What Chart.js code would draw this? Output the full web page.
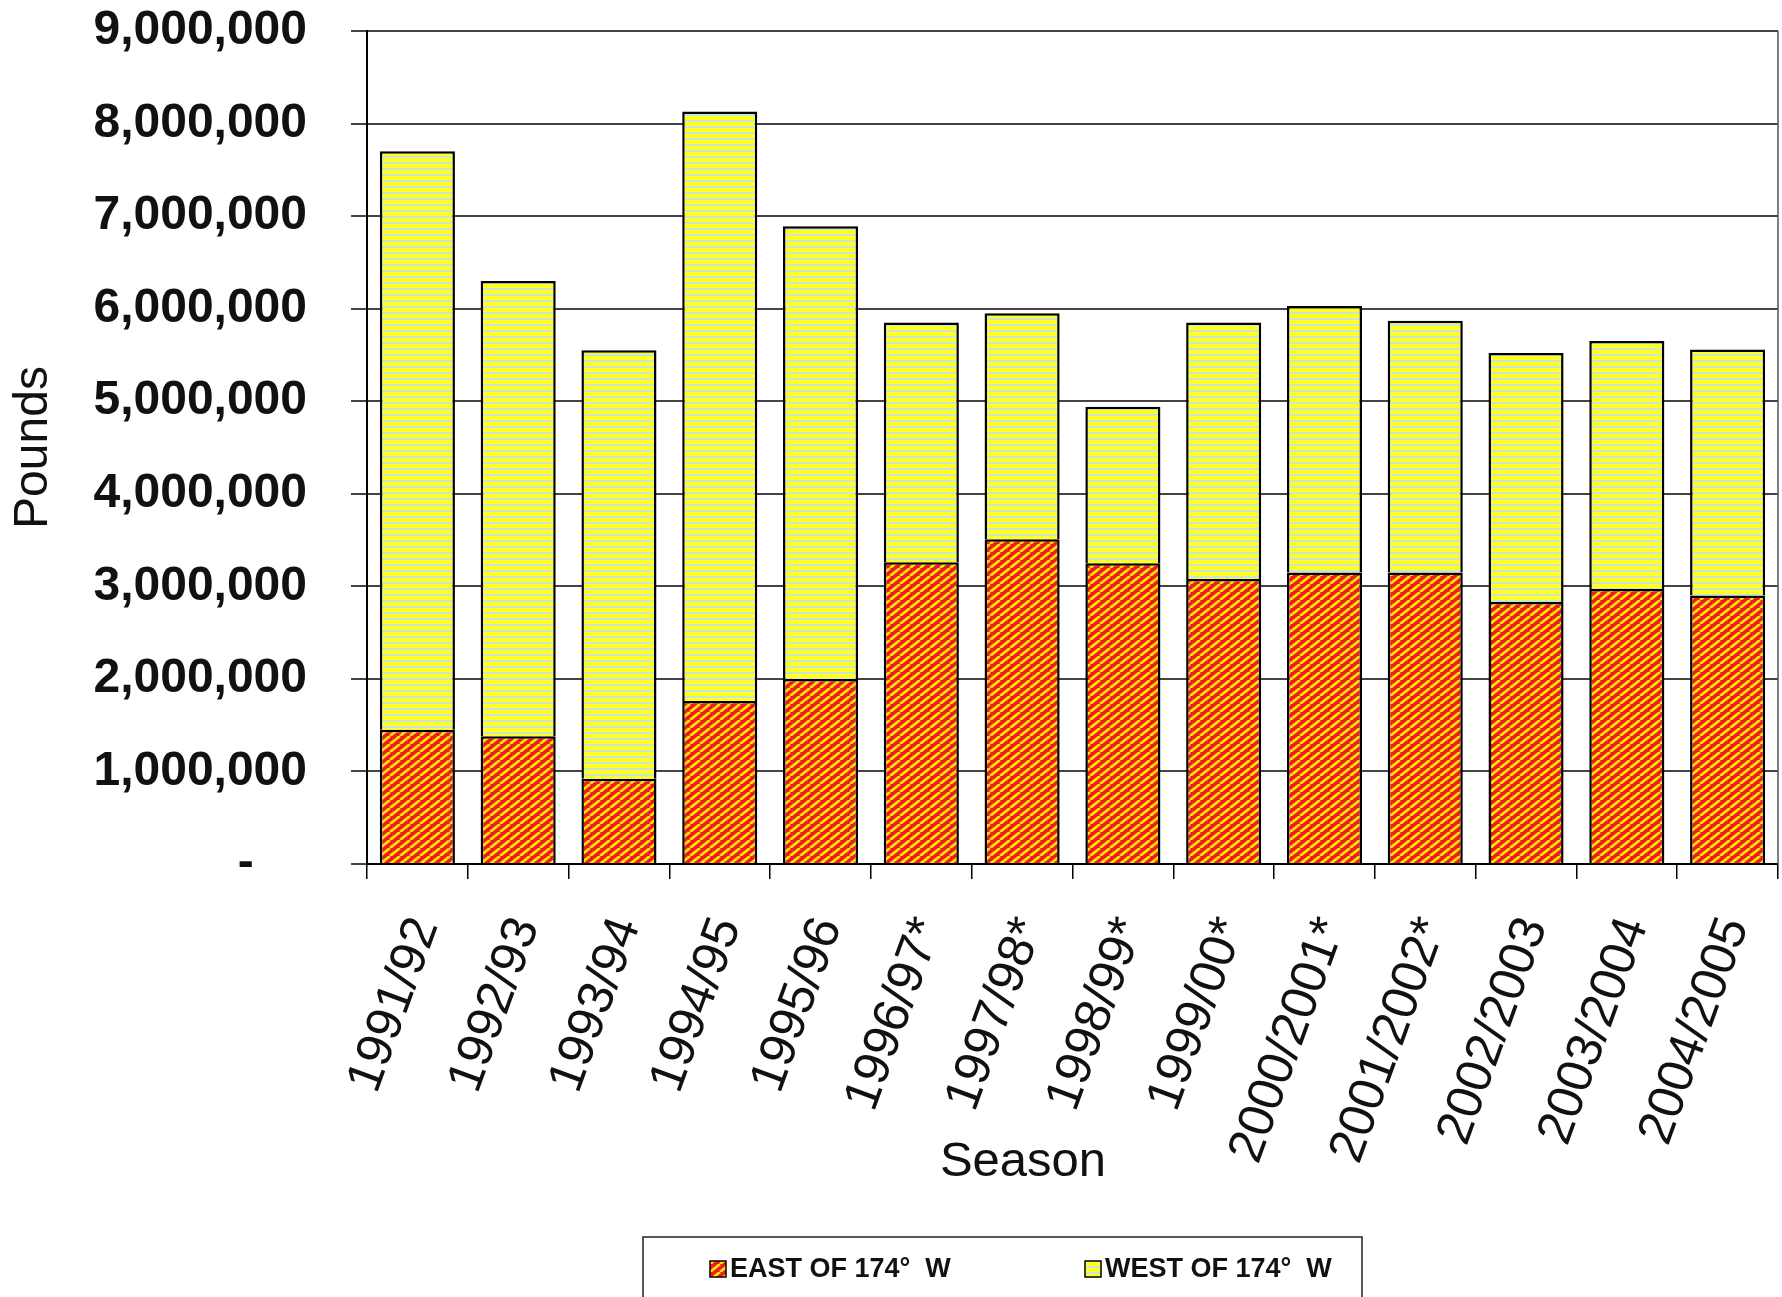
<!DOCTYPE html>
<html>
<head>
<meta charset="utf-8">
<script src="https://cdn.jsdelivr.net/npm/chart.js@4.4.1/dist/chart.umd.min.js"></script>
<style>
  html, body { margin: 0; padding: 0; background: #fff; overflow: hidden; }
  #wrap { position: relative; width: 1782px; height: 1297px; }
</style>
</head>
<body>
<div id="wrap"><canvas id="chart" width="1782" height="1297"></canvas></div>
<script>
// values (pounds)
const seasons = ['1991/92', '1992/93', '1993/94', '1994/95', '1995/96', '1996/97*', '1997/98*',
    '1998/99*', '1999/00*', '2000/2001*', '2001/2002*', '2002/2003', '2003/2004', '2004/2005'];
const eastOf174 = [1450000, 1380000, 920000, 1760000, 2000000, 3260000, 3510000,
    3250000, 3080000, 3150000, 3150000, 2830000, 2970000, 2900000];
const westOf174 = [6250000, 4920000, 4630000, 6370000, 4890000, 2590000, 2440000,
    1690000, 2770000, 2880000, 2720000, 2690000, 2680000, 2660000];
const seriesNames = ['EAST OF 174\u00B0  W', 'WEST OF 174\u00B0  W'];
const yMax = 9000000;
const yStep = 1000000;

const FONT = '"Liberation Sans", Arial, Helvetica, sans-serif';

function makePattern(draw, w, h) {
    const c = document.createElement('canvas');
    c.width = w; c.height = h;
    draw(c.getContext('2d'), w, h);
    return c.getContext('2d').createPattern(c, 'repeat');
}

// red with yellow "/" hatch
const eastFill = makePattern((g, w, h) => {
    g.fillStyle = '#ee1b22';
    g.fillRect(0, 0, w, h);
    g.strokeStyle = '#ffe400';
    g.lineWidth = 2.7;
    g.beginPath();
    for (let k = -1; k <= 1; k++) {
        g.moveTo(k * w, h); g.lineTo((k + 1) * w, 0);
    }
    g.stroke();
}, 10, 8);

// yellow with thin pale horizontal lines
const westFill = makePattern((g, w, h) => {
    g.fillStyle = '#ffff22';
    g.fillRect(0, 0, w, h);
    g.fillStyle = '#cbe4d6';
    g.fillRect(0, 0, w, 2);
}, 8, 6);

const extras = {
    id: 'extras',
    afterDatasetsDraw(chart) {
        const { ctx, chartArea } = chart;
        ctx.save();
        // right edge of plot area
        ctx.strokeStyle = '#555';
        ctx.lineWidth = 1.5;
        ctx.beginPath();
        ctx.moveTo(chartArea.right, chartArea.top);
        ctx.lineTo(chartArea.right, chartArea.bottom);
        ctx.stroke();
        ctx.restore();
    },
    afterDraw(chart) {
        const { ctx } = chart;
        ctx.save();
        ctx.fillStyle = '#111';
        ctx.font = '49px ' + FONT;
        ctx.textAlign = 'center';
        ctx.textBaseline = 'middle';
        ctx.fillText('Season', 1023, 1162);

        // legend box
        ctx.strokeStyle = '#222';
        ctx.lineWidth = 1.5;
        ctx.fillStyle = '#fff';
        ctx.fillRect(643, 1237, 719, 70);
        ctx.strokeRect(643, 1237, 719, 70);

        const items = [
            { x: 710, fill: eastFill, label: seriesNames[0] },
            { x: 1085, fill: westFill, label: seriesNames[1] }
        ];
        ctx.font = 'bold 27px ' + FONT;
        ctx.textAlign = 'left';
        items.forEach(it => {
            ctx.fillStyle = it.fill;
            ctx.fillRect(it.x, 1261, 16, 16);
            ctx.strokeStyle = '#000';
            ctx.lineWidth = 1.5;
            ctx.strokeRect(it.x, 1261, 16, 16);
            ctx.fillStyle = '#111';
            ctx.fillText(it.label, it.x + 20, 1270);
        });
        ctx.restore();
    }
};

new Chart(document.getElementById('chart').getContext('2d'), {
    type: 'bar',
    data: {
        labels: seasons,
        datasets: [{
            label: seriesNames[0],
            data: eastOf174,
            backgroundColor: eastFill,
            borderColor: '#000',
            borderWidth: 2.5,
            barPercentage: 0.745,
            categoryPercentage: 1
        }, {
            label: seriesNames[1],
            data: westOf174,
            backgroundColor: westFill,
            borderColor: '#000',
            borderWidth: 2.5,
            barPercentage: 0.745,
            categoryPercentage: 1
        }]
    },
    options: {
        responsive: false,
        animation: false,
        devicePixelRatio: 1,
        layout: { padding: { top: 31, right: 4, bottom: 0, left: 0 } },
        plugins: {
            legend: { display: false },
            tooltip: { enabled: false }
        },
        scales: {
            x: {
                stacked: true,
                grid: { display: true, drawOnChartArea: false, drawTicks: true, tickLength: 15, color: '#000', lineWidth: 1.5 },
                border: { display: true, color: '#000', width: 2 },
                ticks: {
                    autoSkip: false,
                    minRotation: 70,
                    maxRotation: 70,
                    padding: 31,
                    labelOffset: 8,
                    color: '#111',
                    font: { family: FONT, size: 50 }
                },
                afterFit: s => {
                    s.height = 433;
                    s.paddingLeft = 0;
                    s.paddingRight = 0;
                }
            },
            y: {
                stacked: true,
                min: 0,
                max: yMax,
                grid: { color: '#444', lineWidth: 2, drawTicks: true, tickLength: 16 },
                border: { display: true, color: '#000', width: 2 },
                ticks: {
                    stepSize: yStep,
                    padding: 44,
                    color: '#111',
                    font: { family: FONT, size: 48, weight: 'bold', lineHeight: 1 },
                    callback: v => v === 0 ? '-    ' : v.toLocaleString('en-US')
                },
                title: {
                    display: true,
                    text: 'Pounds',
                    color: '#111',
                    padding: { top: 5, bottom: 0 },
                    font: { family: FONT, size: 48, lineHeight: 1.2 }
                },
                afterFit: s => {
                    s.width = 367;
                    s.paddingTop = 0;
                    s.paddingBottom = 0;
                }
            }
        }
    },
    plugins: [extras]
});
</script>
</body>
</html>
